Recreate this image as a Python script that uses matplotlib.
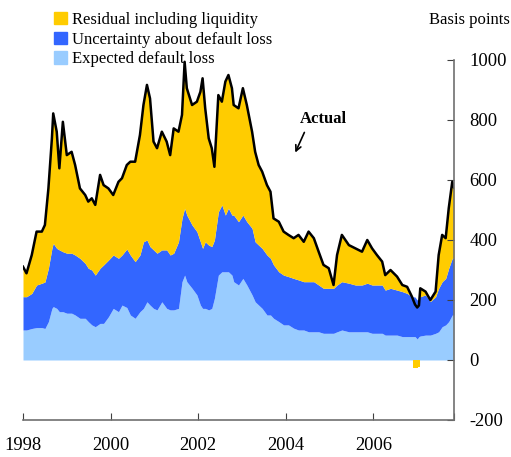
import numpy as np
import matplotlib
matplotlib.use("Agg")
import matplotlib.pyplot as plt
from matplotlib.patches import Patch

plt.rcParams['font.family'] = 'Liberation Serif'
plt.rcParams['axes.unicode_minus'] = False

# decimal years
years = [1998.00, 1998.08, 1998.20, 1998.31, 1998.43, 1998.50, 1998.58, 1998.66, 1998.69, 1998.77,
         1998.83, 1998.91, 1999.00, 1999.11, 1999.19, 1999.30, 1999.42, 1999.49, 1999.57, 1999.65,
         1999.76, 1999.84, 1999.95, 2000.06, 2000.18, 2000.26, 2000.37, 2000.45, 2000.56, 2000.67,
         2000.75, 2000.83, 2000.90, 2000.98, 2001.06, 2001.17, 2001.28, 2001.36, 2001.44, 2001.55,
         2001.63, 2001.69, 2001.74, 2001.86, 2001.97, 2002.05, 2002.10, 2002.16, 2002.24, 2002.31,
         2002.37, 2002.46, 2002.54, 2002.62, 2002.69, 2002.77, 2002.81, 2002.92, 2003.02, 2003.11,
         2003.23, 2003.30, 2003.38, 2003.46, 2003.57, 2003.65, 2003.72, 2003.84, 2003.95, 2004.06,
         2004.18, 2004.29, 2004.41, 2004.52, 2004.64, 2004.75, 2004.86, 2004.98, 2005.09, 2005.17,
         2005.28, 2005.44, 2005.59, 2005.74, 2005.86, 2005.97, 2006.08, 2006.20, 2006.27, 2006.39,
         2006.54, 2006.66, 2006.77, 2006.88, 2006.95, 2007.00, 2007.04, 2007.07, 2007.19, 2007.30,
         2007.42, 2007.49, 2007.57, 2007.65, 2007.72, 2007.80, 2007.84]

actual = [311, 289, 350, 428, 428, 450, 572, 739, 822, 761,
          639, 794, 683, 694, 650, 572, 550, 528, 539, 517,
          617, 583, 572, 550, 594, 606, 650, 661, 661, 750,
          850, 917, 872, 728, 706, 761, 728, 683, 772, 761,
          817, 994, 906, 850, 861, 894, 939, 839, 739, 706,
          644, 883, 861, 928, 950, 906, 850, 839, 906, 850,
          761, 694, 650, 628, 583, 561, 472, 461, 428, 417,
          406, 417, 394, 428, 406, 361, 317, 306, 250, 350,
          417, 383, 372, 361, 400, 372, 350, 328, 283, 300,
          278, 250, 244, 211, 185, 175, 182, 239, 228, 200,
          228, 350, 417, 406, 506, 594, 575]

expected = [100, 100, 105, 108, 108, 105, 128, 172, 178, 172,
            161, 161, 156, 156, 150, 139, 139, 128, 117, 111,
            122, 122, 144, 172, 161, 183, 175, 150, 139, 161,
            172, 194, 183, 172, 167, 194, 172, 167, 167, 172,
            261, 283, 261, 239, 217, 183, 172, 172, 167, 172,
            206, 283, 294, 294, 294, 283, 261, 250, 272, 250,
            217, 194, 183, 172, 150, 150, 139, 128, 117, 117,
            106, 100, 100, 94, 94, 94, 89, 89, 89, 94,
            100, 94, 94, 94, 94, 89, 89, 89, 83, 83,
            83, 78, 78, 78, 78, 70, 78, 80, 83, 83,
            89, 94, 111, 117, 128, 150, 150]

uncertainty = [111, 111, 117, 142, 148, 155, 178, 200, 211, 200,
               206, 200, 200, 200, 200, 200, 183, 178, 183, 172,
               184, 195, 189, 178, 178, 167, 195, 200, 189, 189,
               222, 206, 195, 195, 189, 173, 195, 183, 189, 222,
               211, 223, 222, 211, 211, 211, 200, 222, 216, 206,
               194, 211, 223, 189, 212, 200, 222, 211, 211, 211,
               222, 200, 200, 200, 200, 189, 178, 166, 166, 161,
               166, 167, 161, 167, 167, 156, 150, 150, 150, 156,
               161, 162, 156, 156, 162, 161, 161, 161, 150, 156,
               150, 150, 144, 133, 132, 130, 128, 131, 134, 112,
               122, 145, 150, 155, 178, 189, 190]

x = np.array(years)
act = np.array(actual, dtype=float)
exp_ = np.array(expected, dtype=float)
unc = np.array(uncertainty, dtype=float)
blue_top = exp_ + unc
resid = act - blue_top

yellow = '#FFCC00'
blue = '#3366FF'
light = '#99CCFF'

fig = plt.figure(figsize=(5.11, 4.57), dpi=100)
ax = fig.add_axes([23/511, 1 - 420/457, (454 - 23)/511, 360/457])

ax.fill_between(x, 0, exp_, color=light, lw=0)
ax.fill_between(x, exp_, blue_top, color=blue, lw=0)
ax.fill_between(x, blue_top, blue_top + np.maximum(resid, 0), color=yellow, lw=0)
# negative residual is stacked downward from zero
ax.fill_between(x, 0, np.minimum(resid, 0), color=yellow, lw=0, step='mid')
ax.plot(x, act, color='black', lw=1.8)

ax.set_xlim(1998, 2007.84)
ax.set_ylim(-200, 1000)

for s in ['top', 'left']:
    ax.spines[s].set_visible(False)
for s in ['bottom', 'right']:
    ax.spines[s].set_color('#707070')
    ax.spines[s].set_linewidth(1.2)

ax.yaxis.tick_right()
ax.set_yticks(range(-200, 1001, 200))
ax.set_xticks([1998, 2000, 2002, 2004, 2006, 2007.84])
ax.set_xticklabels(['1998', '2000', '2002', '2004', '2006', ''])
ax.tick_params(axis='both', direction='in', length=5, color='#404040', labelsize=13.3)
ax.tick_params(axis='x', pad=12)
ax.tick_params(axis='y', pad=11)

ax.text(2004.33, 803, 'Actual', fontsize=12, fontweight='bold', va='center', ha='left')
ax.annotate('', xy=(2004.19, 683), xytext=(2004.45, 767),
            arrowprops=dict(arrowstyle='->', color='black', lw=1.2))

handles = [Patch(color=yellow), Patch(color=blue), Patch(color=light)]
labels = ['Residual including liquidity', 'Uncertainty about default loss', 'Expected default loss']
fig.legend(handles, labels, loc='upper left', bbox_to_anchor=(54/511, 1 - 12/457),
           frameon=False, fontsize=12, handlelength=0.75, handleheight=0.75,
           handletextpad=0.35, labelspacing=0.22, borderpad=0, borderaxespad=0)

fig.text(510/511, 1 - 20/457, 'Basis points', fontsize=12, ha='right', va='center')

fig.savefig('out.png', dpi=100)
